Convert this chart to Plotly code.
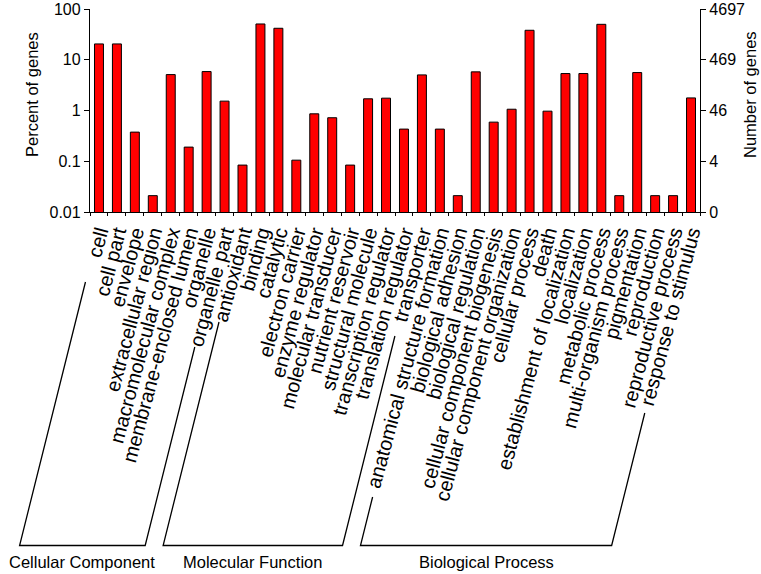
import plotly.graph_objects as go

# ---------------- data ----------------
cc_terms = ["cell", "cell part", "envelope", "extracellular region", "macromolecular complex",
            "membrane-enclosed lumen", "organelle", "organelle part"]
cc_pct = [20.5, 20.5, 0.375, 0.021, 5.1, 0.19, 5.85, 1.53]

mf_terms = ["antioxidant", "binding", "catalytic", "electron carrier", "enzyme regulator",
            "molecular transducer", "nutrient reservoir", "structural molecule",
            "transcription regulator", "translation regulator", "transporter"]
mf_pct = [0.084, 50.7, 41.7, 0.105, 0.86, 0.72, 0.084, 1.70, 1.75, 0.43, 5.03]

bp_terms = ["anatomical structure formation", "biological adhesion", "biological regulation",
            "cellular component biogenesis", "cellular component organization", "cellular process",
            "death", "establishment of localization", "localization", "metabolic process",
            "multi-organism process", "pigmentation", "reproduction", "reproductive process",
            "response to stimulus"]
bp_pct = [0.43, 0.021, 5.77, 0.59, 1.06, 38.1, 0.97, 5.35, 5.35, 49.9, 0.021, 5.59, 0.021, 0.021, 1.77]

group_names = ["Cellular Component", "Molecular Function", "Biological Process"]
left_ticks = [0.01, 0.1, 1, 10, 100]
left_ticktext = ["0.01", "0.1", "1", "10", "100"]
right_ticktext = ["0", "4", "46", "469", "4697"]
left_title = "Percent of genes"
right_title = "Number of genes"

categories = cc_terms + mf_terms + bp_terms
values = cc_pct + mf_pct + bp_pct
groups = [cc_terms, mf_terms, bp_terms]

# ---------------- layout geometry (pixels) ----------------
FW, FH = 761, 574
ML, MR, MT, MB = 90, 61, 9, 362
PW = FW - ML - MR
PH = FH - MT - MB
N = len(categories)
FONT = "Liberation Sans, Arial, sans-serif"

fig = go.Figure()
fig.add_trace(go.Bar(
    x=categories, y=values, marker=dict(color="#FF0000", line=dict(color="black", width=1)),
    hoverinfo="x+y", showlegend=False))
fig.add_trace(go.Scatter(
    x=categories, y=values, yaxis="y2", mode="markers", marker=dict(opacity=0),
    hoverinfo="skip", showlegend=False))

# bracket lines following the label direction
slope = 0.25          # horizontal px per vertical px (label direction)
shift = 4             # px offset of label baseline from category centre
bottom_depth = 333.5  # px below axis
top_depth = [(70, 135), (110, 124), (285, 201)]  # depth where each bracket side starts


def px_x(i, depth):
    return (i + 0.5) * PW / N + shift - depth * slope


def to_paper(x_px, depth):
    return x_px / PW, -depth / PH


shapes = []
annotations = []
start = 0
for g, terms in enumerate(groups):
    end = start + len(terms) - 1
    dl, dr = top_depth[g]
    pts = [(px_x(start, dl), dl), (px_x(start, bottom_depth), bottom_depth),
           (px_x(end, bottom_depth), bottom_depth), (px_x(end, dr), dr)]
    path = ""
    for k, (xp, dp) in enumerate(pts):
        xx, yy = to_paper(xp, dp)
        path += ("M" if k == 0 else "L") + f"{xx:.5f},{yy:.5f} "
    shapes.append(dict(type="path", xref="paper", yref="paper", path=path.strip(),
                       line=dict(color="black", width=1.3)))
    cx = (px_x(start, bottom_depth) + px_x(end, bottom_depth)) / 2
    ax, ay = to_paper(cx, bottom_depth + 16)
    annotations.append(dict(text=group_names[g], xref="paper", yref="paper", x=ax, y=ay,
                            showarrow=False, xanchor="center", yanchor="middle",
                            font=dict(family=FONT, size=16.5, color="black")))
    start = end + 1

# axis titles (sit slightly above the axis centre, as in the original)
title_y = (PH - (95 - MT)) / PH
annotations.append(dict(text=left_title, textangle=-90, xref="paper", yref="paper",
                        x=(32 - ML) / PW, y=title_y, showarrow=False,
                        xanchor="center", yanchor="middle",
                        font=dict(family=FONT, size=16.5, color="black")))
annotations.append(dict(text=right_title, textangle=-90, xref="paper", yref="paper",
                        x=(750 - ML) / PW, y=title_y, showarrow=False,
                        xanchor="center", yanchor="middle",
                        font=dict(family=FONT, size=16.5, color="black")))

fig.update_layout(
    width=FW, height=FH,
    margin=dict(l=ML, r=MR, t=MT, b=MB, autoexpand=False),
    plot_bgcolor="white", paper_bgcolor="white",
    bargap=0.5,
    font=dict(family=FONT, color="black"),
    xaxis=dict(type="category", tickmode="array", tickvals=categories, ticktext=categories,
               tickangle=-75, tickfont=dict(size=20, family=FONT, color="black"),
               showline=True, linecolor="black", linewidth=1.3, ticks="outside",
               tickson="boundaries", ticklen=3, tickcolor="black", showgrid=False,
               range=[-0.5, N - 0.5]),
    yaxis=dict(type="log", range=[-2, 2], tickvals=left_ticks, ticktext=left_ticktext,
               showline=True, linecolor="black", linewidth=1.3, ticks="outside", ticklen=5,
               tickcolor="black", showgrid=False, zeroline=False,
               tickfont=dict(size=16, family=FONT, color="black")),
    yaxis2=dict(type="log", range=[-2, 2], overlaying="y", side="right", tickvals=left_ticks,
                ticktext=right_ticktext, showline=True, linecolor="black", linewidth=1.3,
                ticks="outside", ticklen=5, tickcolor="black", showgrid=False, zeroline=False,
                tickfont=dict(size=16, family=FONT, color="black")),
    shapes=shapes, annotations=annotations, showlegend=False,
)

fig.write_html("out.html", config={"displayModeBar": False},
               post_script="document.body.style.margin='0';document.body.style.padding='0';")
